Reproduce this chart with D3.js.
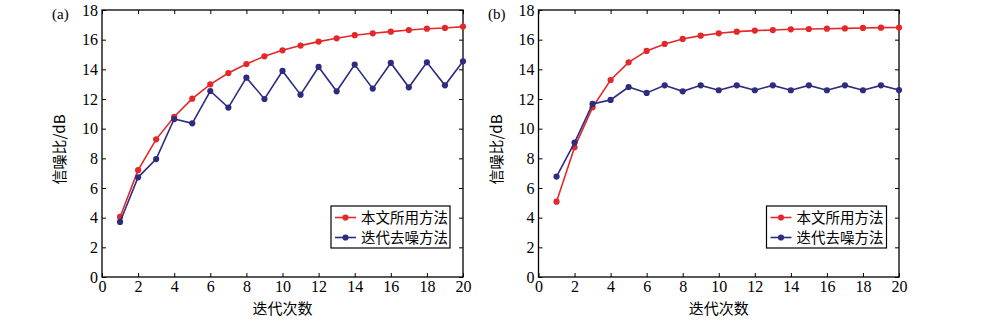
<!DOCTYPE html>
<html>
<head>
<meta charset="utf-8">
<script src="https://cdn.jsdelivr.net/npm/d3@7"></script>
<style>
  html, body { margin: 0; padding: 0; background: #fff; }
  svg { display: block; }
</style>
</head>
<body>
<svg id="chart" width="1000" height="323"></svg>
<script>
// Iteration counts shared by both panels
const iterations = d3.range(1, 21);

// Panel (a): SNR (dB) per iteration
const proposedA = [4.05, 7.2, 9.28, 10.8, 12.02, 12.99, 13.75, 14.36, 14.88, 15.28,
                   15.6, 15.87, 16.09, 16.3, 16.43, 16.54, 16.65, 16.74, 16.79, 16.88];
const iterativeA = [3.71, 6.72, 7.95, 10.65, 10.36, 12.54, 11.42, 13.44, 12.0, 13.89,
                    12.29, 14.16, 12.52, 14.32, 12.7, 14.43, 12.79, 14.47, 12.92, 14.54];

// Panel (b): SNR (dB) per iteration
const proposedB = [5.08, 8.74, 11.44, 13.28, 14.47, 15.24, 15.71, 16.05, 16.27, 16.43,
                   16.54, 16.61, 16.65, 16.7, 16.72, 16.74, 16.76, 16.79, 16.81, 16.82];
const iterativeB = [6.77, 9.06, 11.67, 11.94, 12.81, 12.41, 12.92, 12.52, 12.92, 12.59,
                    12.92, 12.59, 12.92, 12.59, 12.92, 12.59, 12.92, 12.59, 12.92, 12.6];

const xTicks = [0, 2, 4, 6, 8, 10, 12, 14, 16, 18, 20];
const yTicks = [0, 2, 4, 6, 8, 10, 12, 14, 16, 18];
const seriesNames = ["本文所用方法", "迭代去噪方法"];
const seriesColors = ["#e4282a", "#2e2c80"];
const xTitle = "迭代次数";
const yTitle = "信噪比/dB";

const panels = [
  { tag: "(a)", left: 102, right: 463, tagX: 52, yTitleX: 60, legendX: 331, legendW: 119,
    series: [proposedA, iterativeA] },
  { tag: "(b)", left: 538.5, right: 899, tagX: 488, yTitleX: 497, legendX: 766.5, legendW: 120,
    series: [proposedB, iterativeB] }
];

const plotTop = 10, plotBottom = 277;
const numFont = "'Liberation Serif', 'DejaVu Serif', serif";
const cjkFont = "'Noto Sans CJK SC', 'Noto Sans CJK JP', sans-serif";
const svg = d3.select("#chart");

panels.forEach(p => {
  const g = svg.append("g");
  const x = d3.scaleLinear().domain([0, 20]).range([p.left, p.right]);
  const y = d3.scaleLinear().domain([0, 18]).range([plotBottom, plotTop]);

  // Axes with inward ticks on all four sides
  const tickLen = 4;
  const axisStyle = sel => {
    sel.attr("font-family", null).attr("font-size", null);
    sel.select(".domain").remove();
    sel.selectAll(".tick line").attr("stroke", "#000").attr("stroke-width", 1);
    sel.selectAll("text")
      .style("font-family", numFont).style("font-size", "16px").attr("fill", "#000");
  };
  g.append("g").attr("transform", `translate(0,${plotBottom})`)
    .call(d3.axisBottom(x).tickValues(xTicks).tickSizeInner(-tickLen).tickSizeOuter(0).tickPadding(4))
    .call(axisStyle);
  g.append("g").attr("transform", `translate(0,${plotTop})`)
    .call(d3.axisTop(x).tickValues(xTicks).tickSizeInner(-tickLen).tickSizeOuter(0).tickFormat(""))
    .call(axisStyle);
  g.append("g").attr("transform", `translate(${p.left},0)`)
    .call(d3.axisLeft(y).tickValues(yTicks).tickSizeInner(-tickLen).tickSizeOuter(0).tickPadding(4))
    .call(axisStyle);
  g.append("g").attr("transform", `translate(${p.right},0)`)
    .call(d3.axisRight(y).tickValues(yTicks).tickSizeInner(-tickLen).tickSizeOuter(0).tickFormat(""))
    .call(axisStyle);

  // Plot frame
  g.append("rect")
    .attr("x", p.left).attr("y", plotTop)
    .attr("width", p.right - p.left).attr("height", plotBottom - plotTop)
    .attr("fill", "none").attr("stroke", "#000").attr("stroke-width", 1.3);

  // Series lines and markers
  const line = d3.line().x((d, i) => x(iterations[i])).y(d => y(d));
  p.series.forEach((vals, si) => {
    g.append("path").datum(vals)
      .attr("d", line).attr("fill", "none")
      .attr("stroke", seriesColors[si]).attr("stroke-width", 1.6);
    g.selectAll(null).data(vals).enter().append("circle")
      .attr("cx", (d, i) => x(iterations[i])).attr("cy", d => y(d))
      .attr("r", 3.1).attr("fill", seriesColors[si]);
  });

  // Axis titles
  g.append("text")
    .attr("x", (p.left + p.right) / 2).attr("y", 314)
    .attr("text-anchor", "middle")
    .style("font-family", cjkFont).style("font-size", "15px")
    .text(xTitle);
  g.append("text")
    .attr("transform", `translate(${p.yTitleX + 5},${(plotTop + plotBottom) / 2 + 6}) rotate(-90)`)
    .attr("text-anchor", "middle")
    .style("font-family", cjkFont).style("font-size", "15px")
    .text(yTitle);

  // Panel tag
  g.append("text")
    .attr("x", p.tagX).attr("y", 19)
    .style("font-family", numFont).style("font-size", "15px")
    .text(p.tag);

  // Legend
  const lg = g.append("g").attr("transform", `translate(${p.legendX},206)`);
  lg.append("rect").attr("width", p.legendW).attr("height", 42)
    .attr("fill", "#fff").attr("stroke", "#000").attr("stroke-width", 1.2);
  seriesNames.forEach((name, i) => {
    const cy = 11.5 + i * 20;
    lg.append("line").attr("x1", 4).attr("x2", 25).attr("y1", cy).attr("y2", cy)
      .attr("stroke", seriesColors[i]).attr("stroke-width", 1.6);
    lg.append("circle").attr("cx", 14.5).attr("cy", cy).attr("r", 3.1).attr("fill", seriesColors[i]);
    lg.append("text")
      .attr("x", 30).attr("y", cy).attr("dy", "0.36em")
      .style("font-family", cjkFont).style("font-size", "14.5px")
      .text(name);
  });
});
</script>
</body>
</html>
